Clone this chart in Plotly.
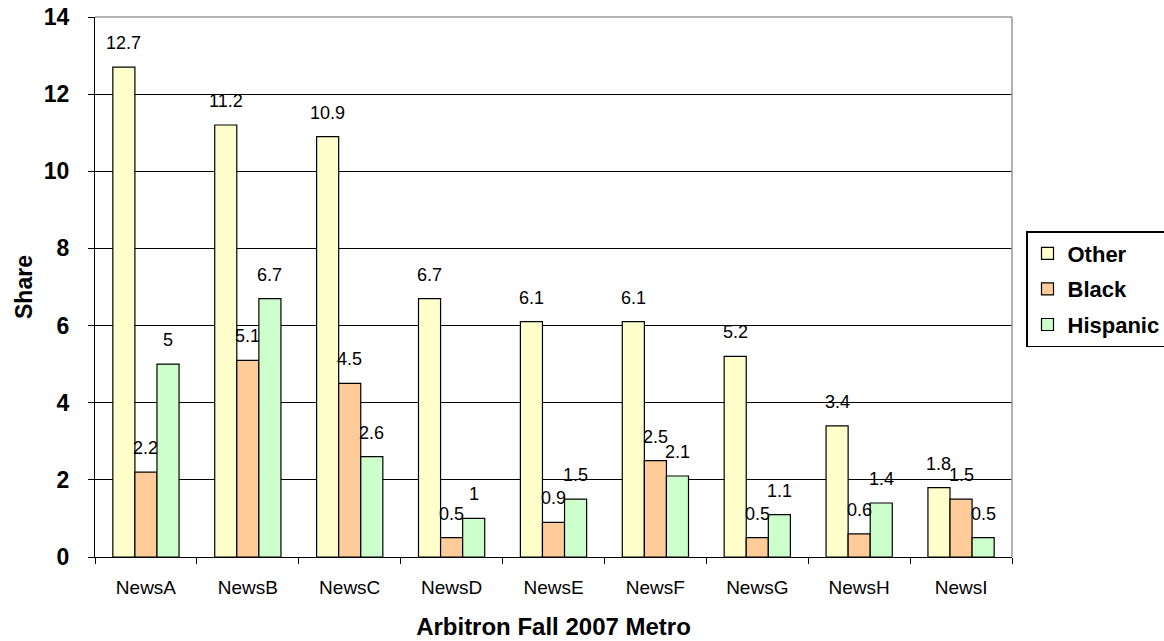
import plotly.graph_objects as go

# Audience share by station, Arbitron Fall 2007 Metro
stations = ["NewsA", "NewsB", "NewsC", "NewsD", "NewsE", "NewsF", "NewsG", "NewsH", "NewsI"]
other = [12.7, 11.2, 10.9, 6.7, 6.1, 6.1, 5.2, 3.4, 1.8]
black = [2.2, 5.1, 4.5, 0.5, 0.9, 2.5, 0.5, 0.6, 1.5]
hispanic = [5, 6.7, 2.6, 1, 1.5, 2.1, 1.1, 1.4, 0.5]
y_ticks = [0, 2, 4, 6, 8, 10, 12, 14]

series = [
    ("Other", other, "#FFFFCC"),
    ("Black", black, "#FFCC99"),
    ("Hispanic", hispanic, "#CCFFCC"),
]

FONT = "Liberation Sans, Arial, sans-serif"
W, H = 1164, 641
M = dict(l=95, r=152, t=17, b=84)
BARGAP = 0.35

# pixel width of one bar, used to place the value labels over each bar
plot_w = W - M["l"] - M["r"]
plot_h = H - M["t"] - M["b"]
bar_w = plot_w / len(stations) * (1 - BARGAP) / len(series)

fig = go.Figure()
annotations = []
for i, (name, vals, color) in enumerate(series):
    fig.add_trace(go.Bar(
        name=name,
        x=stations,
        y=vals,
        legendgroup=name,
        marker=dict(color=color, line=dict(color="black", width=1.2)),
    ))
    for cat, v in zip(stations, vals):
        annotations.append(dict(
            x=cat, y=v, xref="x", yref="y",
            text=f"{v:g}", showarrow=False,
            xshift=(i - (len(series) - 1) / 2) * bar_w,
            yanchor="bottom", yshift=12,
            font=dict(family=FONT, size=18, color="black"),
        ))

fig.update_layout(
    width=W,
    height=H,
    margin=dict(**M, autoexpand=False),
    paper_bgcolor="white",
    plot_bgcolor="white",
    barmode="group",
    bargap=BARGAP,
    bargroupgap=0,
    font=dict(family=FONT, color="black"),
    annotations=annotations,
    legend=dict(
        x=(1026 - M["l"]) / plot_w, y=1 - (231 - M["t"]) / plot_h,
        xanchor="left", yanchor="top",
        bordercolor="black", borderwidth=1.5,
        font=dict(family=FONT, size=22, color="black", weight="bold"),
        traceorder="grouped",
        tracegroupgap=4,
        itemwidth=30,
    ),
    xaxis=dict(
        showline=True, linecolor="black", linewidth=1,
        ticks="outside", ticklen=6, tickcolor="black",
        tickson="boundaries",
        ticklabelstandoff=13,
        tickfont=dict(family=FONT, size=19, color="black"),
        title=dict(text="Arbitron Fall 2007 Metro", standoff=21,
                   font=dict(family=FONT, size=24, color="black", weight="bold")),
    ),
    yaxis=dict(
        range=[0, 14],
        tickvals=y_ticks,
        showline=True, linecolor="black", linewidth=1,
        ticks="outside", ticklen=6, tickcolor="black",
        ticklabelstandoff=14,
        showgrid=True, gridcolor="black", gridwidth=1,
        zeroline=False,
        tickfont=dict(family=FONT, size=23, color="black", weight="bold"),
        title=dict(text="Share", standoff=4,
                   font=dict(family=FONT, size=23, color="black", weight="bold")),
    ),
    shapes=[
        dict(type="line", xref="paper", yref="paper", x0=0, x1=1, y0=1, y1=1,
             line=dict(color="#999999", width=1.5), layer="above"),
        dict(type="line", xref="paper", yref="paper", x0=1, x1=1, y0=0, y1=1,
             line=dict(color="#999999", width=1.5), layer="above"),
    ],
)

fig.write_html("out.html")
